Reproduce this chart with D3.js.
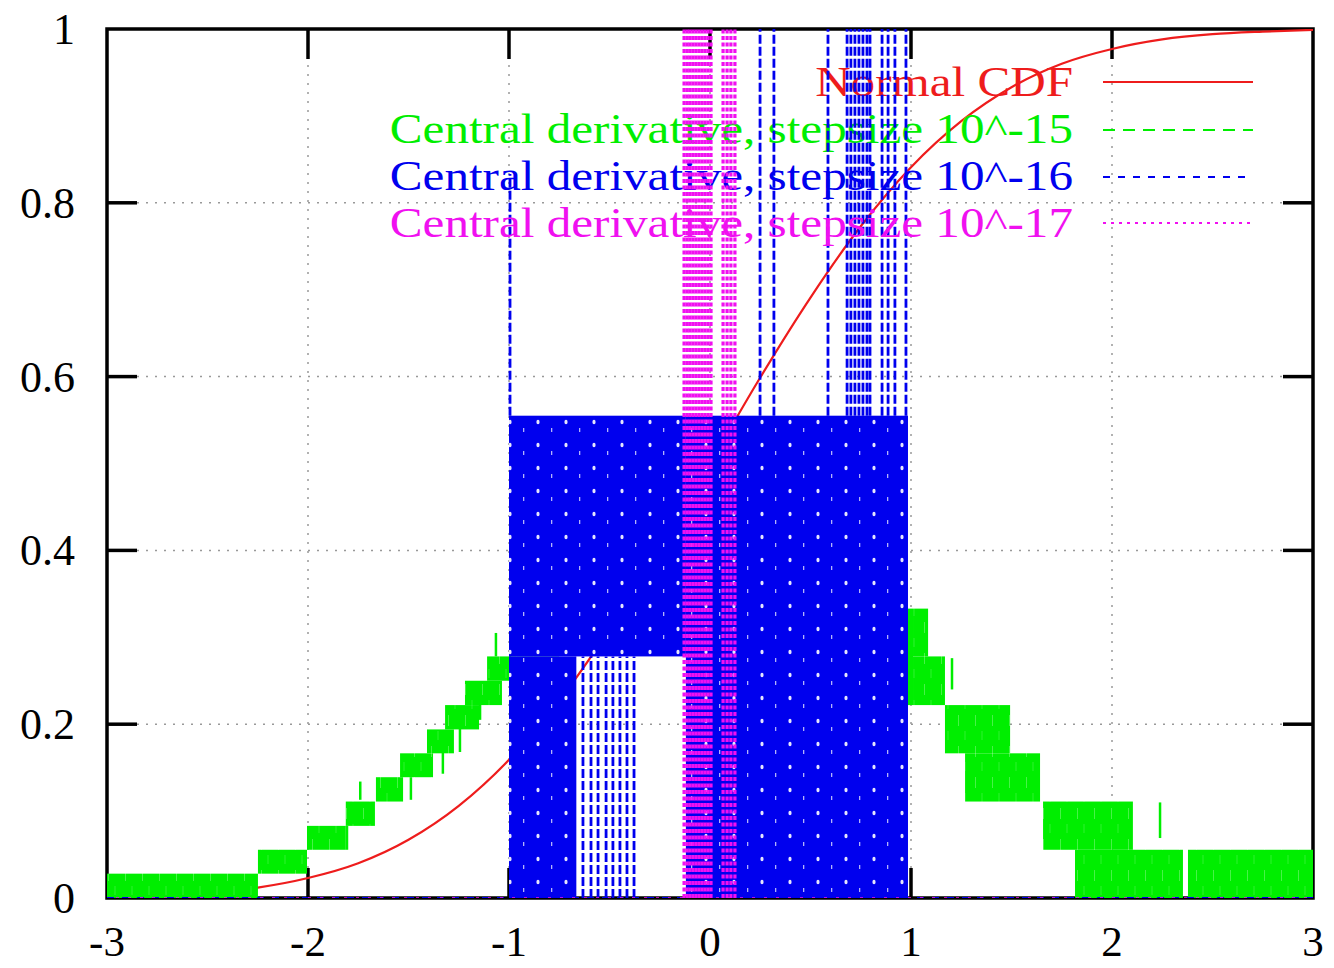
<!DOCTYPE html>
<html>
<head>
<meta charset="utf-8">
<script src="https://cdn.jsdelivr.net/npm/d3@7/dist/d3.min.js"></script>
<style>
  html, body { margin: 0; padding: 0; background: #fff; }
  svg { display: block; }
  text { font-family: "Liberation Serif", "Times New Roman", serif; }
</style>
</head>
<body>
<div id="chart"></div>
<script>
// ---- data ----
var xTicks = [-3, -2, -1, 0, 1, 2, 3];
var yTicks = [0, 0.2, 0.4, 0.6, 0.8, 1];

// normal CDF, sampled every 0.25
var cdfX = [-3, -2.75, -2.5, -2.25, -2, -1.75, -1.5, -1.25, -1, -0.75, -0.5, -0.25, 0,
            0.25, 0.5, 0.75, 1, 1.25, 1.5, 1.75, 2, 2.25, 2.5, 2.75, 3];
var cdfY = [0.001, 0.003, 0.006, 0.012, 0.023, 0.040, 0.067, 0.106, 0.159, 0.227, 0.309, 0.401, 0.5,
            0.599, 0.691, 0.773, 0.841, 0.894, 0.933, 0.960, 0.977, 0.988, 0.994, 0.997, 0.999];

// stepsize 10^-15 : noisy bands [x0, x1, low, high]
var greenBands = [
  [-3.0, -2.249, 0, 0.028],
  [-2.249, -2.005, 0.028, 0.0555],
  [-2.005, -1.812, 0.0555, 0.083],
  [-1.812, -1.667, 0.083, 0.111],
  [-1.662, -1.527, 0.111, 0.139],
  [-1.542, -1.378, 0.139, 0.1665],
  [-1.408, -1.274, 0.1665, 0.194],
  [-1.318, -1.149, 0.194, 0.222],
  [-1.219, -1.035, 0.222, 0.25],
  [-1.109, -0.99, 0.25, 0.278],
  [-1.0, -0.75, 0.278, 0.305],
  [-0.8, -0.5, 0.305, 0.333],
  [-0.55, -0.25, 0.333, 0.361],
  [-0.3, 0.02, 0.361, 0.389],
  [0, 0.5, 0.333, 0.444],
  [0.45, 0.85, 0.278, 0.389],
  [0.8, 1.01, 0.222, 0.333],
  [1.01, 1.085, 0.278, 0.333],
  [1.01, 1.169, 0.222, 0.278],
  [1.169, 1.493, 0.1665, 0.222],
  [1.269, 1.642, 0.111, 0.1665],
  [1.657, 2.104, 0.0555, 0.111],
  [1.816, 2.353, 0, 0.0555],
  [2.378, 3.0, 0, 0.0555]
];
// isolated spikes [x, low, high]
var greenSpikes = [
  [-1.806, 0.0555, 0.083],
  [-1.74, 0.113, 0.134],
  [-1.488, 0.113, 0.139],
  [-1.329, 0.143, 0.17],
  [-1.244, 0.168, 0.197],
  [-1.144, 0.205, 0.225],
  [-1.065, 0.278, 0.305],
  [1.204, 0.24, 0.276],
  [2.239, 0.069, 0.11]
];

// stepsize 10^-16
var blueBands = [
  [-1.0, -0.12, 0.278, 0.555],
  [-1.0, -0.665, 0, 0.278],
  [-0.12, 0.985, 0, 0.555]
];
var blueLines = [
  [-0.995, 0.555, 0.833],
  [-0.632, 0, 0.278], [-0.592, 0, 0.278], [-0.557, 0, 0.278], [-0.517, 0, 0.278],
  [-0.483, 0, 0.278], [-0.448, 0, 0.278], [-0.413, 0, 0.278], [-0.378, 0, 0.278],
  [0.249, 0.555, 1.1], [0.318, 0.555, 1.1], [0.587, 0.555, 1.1],
  [0.682, 0.555, 1.1], [0.701, 0.555, 1.1], [0.721, 0.555, 1.1], [0.741, 0.555, 1.1],
  [0.761, 0.555, 1.1], [0.781, 0.555, 1.1], [0.796, 0.555, 1.1],
  [0.856, 0.555, 1.1], [0.886, 0.555, 1.1], [0.92, 0.555, 1.1], [0.975, 0.555, 1.1]
];

// stepsize 10^-17 : every value is off the top of the chart
var magentaX = [-0.129, -0.114, -0.100, -0.085, -0.070, -0.055, -0.040, -0.025, -0.010, 0.005,
                0.065, 0.085, 0.104, 0.124];
var magentaTop = 1.1;

var legendLabels = [
  "Normal CDF",
  "Central derivative, stepsize 10^-15",
  "Central derivative, stepsize 10^-16",
  "Central derivative, stepsize 10^-17"
];

// ---- drawing ----
var width = 1334, height = 968;
var red = "#ee1c1c", green = "#00ee00", blue = "#0000ee", magenta = "#f010f0";

var svg = d3.select("#chart").append("svg")
  .attr("width", width)
  .attr("height", height);

var x = d3.scaleLinear().domain([-3, 3]).range([107, 1313]);
var y = d3.scaleLinear().domain([0, 1]).range([898, 29]);
var tickLen = 30;

var defs = svg.append("defs");
defs.append("clipPath").attr("id", "plotclip")
  .append("rect")
  .attr("x", x(-3)).attr("y", y(1))
  .attr("width", x(3) - x(-3)).attr("height", y(0) - y(1));

// green texture: faint white streaks
var gp = defs.append("pattern").attr("id", "greenTex")
  .attr("patternUnits", "userSpaceOnUse")
  .attr("width", 17).attr("height", 31);
gp.append("rect").attr("width", 17).attr("height", 31).attr("fill", green);
gp.append("line").attr("x1", 6.5).attr("x2", 6.5).attr("y1", 2).attr("y2", 13)
  .attr("stroke", "#fff").attr("stroke-width", 0.8).attr("opacity", 0.35);
gp.append("line").attr("x1", 13).attr("x2", 13).attr("y1", 18).attr("y2", 27)
  .attr("stroke", "#fff").attr("stroke-width", 0.7).attr("opacity", 0.25);

// blue texture: sparse white holes between dashes
var bp = defs.append("pattern").attr("id", "blueTex")
  .attr("patternUnits", "userSpaceOnUse")
  .attr("width", 28).attr("height", 23);
bp.append("rect").attr("width", 28).attr("height", 23).attr("fill", blue);
bp.append("ellipse").attr("cx", 6).attr("cy", 8).attr("rx", 1.6).attr("ry", 2.3)
  .attr("fill", "#fff").attr("opacity", 0.9);
bp.append("rect").attr("x", 19).attr("y", 14).attr("width", 1.3).attr("height", 4)
  .attr("fill", "#fff").attr("opacity", 0.7);

// grid
var grid = svg.append("g")
  .attr("stroke", "#999").attr("stroke-width", 1.5)
  .attr("stroke-dasharray", "2,7");
grid.selectAll(".gx")
  .data(xTicks.filter(function (d) { return d > -3 && d < 3; }))
  .enter().append("line")
  .attr("x1", function (d) { return x(d); })
  .attr("x2", function (d) { return x(d); })
  .attr("y1", y(0) - tickLen).attr("y2", y(1) + tickLen);
grid.selectAll(".gy")
  .data(yTicks.filter(function (d) { return d > 0 && d < 1; }))
  .enter().append("line")
  .attr("y1", function (d) { return y(d); })
  .attr("y2", function (d) { return y(d); })
  .attr("x1", x(-3) + tickLen).attr("x2", x(3) - tickLen);

// border and ticks
var frame = svg.append("g").attr("stroke", "#000").attr("stroke-width", 3.5).attr("fill", "none");
frame.append("rect")
  .attr("x", x(-3)).attr("y", y(1))
  .attr("width", x(3) - x(-3)).attr("height", y(0) - y(1));
xTicks.filter(function (d) { return d > -3 && d < 3; }).forEach(function (d) {
  frame.append("line").attr("x1", x(d)).attr("x2", x(d)).attr("y1", y(0)).attr("y2", y(0) - tickLen);
  frame.append("line").attr("x1", x(d)).attr("x2", x(d)).attr("y1", y(1)).attr("y2", y(1) + tickLen);
});
yTicks.filter(function (d) { return d > 0 && d < 1; }).forEach(function (d) {
  frame.append("line").attr("y1", y(d)).attr("y2", y(d)).attr("x1", x(-3)).attr("x2", x(-3) + tickLen);
  frame.append("line").attr("y1", y(d)).attr("y2", y(d)).attr("x1", x(3)).attr("x2", x(3) - tickLen);
});

// tick labels
svg.append("g").selectAll("text")
  .data(xTicks).enter().append("text")
  .attr("x", function (d) { return x(d); })
  .attr("y", 956)
  .attr("text-anchor", "middle")
  .attr("font-size", 43)
  .text(function (d) { return d; });
svg.append("g").selectAll("text")
  .data(yTicks).enter().append("text")
  .attr("x", 75)
  .attr("y", function (d) { return y(d) + 15; })
  .attr("text-anchor", "end")
  .attr("font-size", 44)
  .text(function (d) { return d; });

var legendY = [96, 143, 190, 237];
var sampleY = [82, 130, 177, 223];

function legendEntry(i, color, dash) {
  // the reference face is wider than Times, so stretch it horizontally
  svg.append("text")
    .attr("transform", "translate(1073," + legendY[i] + ") scale(1.17,1)")
    .attr("text-anchor", "end")
    .attr("font-size", 42)
    .attr("fill", color)
    .text(legendLabels[i]);
  svg.append("line")
    .attr("x1", 1103).attr("x2", 1253)
    .attr("y1", sampleY[i]).attr("y2", sampleY[i])
    .attr("stroke", color).attr("stroke-width", 2.2)
    .attr("stroke-dasharray", dash);
}

// Normal CDF
legendEntry(0, red, null);
var cdfLine = d3.line()
  .x(function (d) { return x(d[0]); })
  .y(function (d) { return y(d[1]); })
  .curve(d3.curveMonotoneX);
svg.append("path")
  .datum(d3.zip(cdfX, cdfY))
  .attr("clip-path", "url(#plotclip)")
  .attr("d", cdfLine)
  .attr("fill", "none")
  .attr("stroke", red)
  .attr("stroke-width", 2.2);

// stepsize 10^-15
legendEntry(1, green, "12,8");
var g15 = svg.append("g").attr("clip-path", "url(#plotclip)");
g15.selectAll("rect")
  .data(greenBands).enter().append("rect")
  .attr("x", function (d) { return x(d[0]); })
  .attr("width", function (d) { return x(d[1]) - x(d[0]); })
  .attr("y", function (d) { return y(d[3]); })
  .attr("height", function (d) { return y(d[2]) - y(d[3]); })
  .attr("fill", "url(#greenTex)");
g15.selectAll("line")
  .data(greenSpikes).enter().append("line")
  .attr("x1", function (d) { return x(d[0]); })
  .attr("x2", function (d) { return x(d[0]); })
  .attr("y1", function (d) { return y(d[1]); })
  .attr("y2", function (d) { return y(d[2]); })
  .attr("stroke", green).attr("stroke-width", 2.5);

// stepsize 10^-16
legendEntry(2, blue, "7,8");
var g16 = svg.append("g").attr("clip-path", "url(#plotclip)");
g16.selectAll("rect")
  .data(blueBands).enter().append("rect")
  .attr("x", function (d) { return x(d[0]); })
  .attr("width", function (d) { return x(d[1]) - x(d[0]); })
  .attr("y", function (d) { return y(d[3]); })
  .attr("height", function (d) { return y(d[2]) - y(d[3]); })
  .attr("fill", "url(#blueTex)");
g16.selectAll("line.v")
  .data(blueLines).enter().append("line")
  .attr("class", "v")
  .attr("x1", function (d) { return x(d[0]); })
  .attr("x2", function (d) { return x(d[0]); })
  .attr("y1", function (d) { return y(d[1]); })
  .attr("y2", function (d) { return y(d[2]); })
  .attr("stroke", blue).attr("stroke-width", 2.8)
  .attr("stroke-dasharray", "9,3");
g16.append("line")
  .attr("x1", x(-3)).attr("x2", x(3)).attr("y1", y(0)).attr("y2", y(0))
  .attr("stroke", blue).attr("stroke-width", 2).attr("stroke-dasharray", "7,8");

// stepsize 10^-17
legendEntry(3, magenta, "3,5");
var g17 = svg.append("g").attr("clip-path", "url(#plotclip)");
g17.selectAll("line.v")
  .data(magentaX).enter().append("line")
  .attr("class", "v")
  .attr("x1", function (d) { return x(d); })
  .attr("x2", function (d) { return x(d); })
  .attr("y1", y(0))
  .attr("y2", y(magentaTop))
  .attr("stroke", magenta).attr("stroke-width", 3.2)
  .attr("stroke-dasharray", "4,2.5");
g17.append("line")
  .attr("x1", x(-3)).attr("x2", x(3)).attr("y1", y(0)).attr("y2", y(0))
  .attr("stroke", magenta).attr("stroke-width", 1.5).attr("stroke-dasharray", "3,9")
  .attr("stroke-dashoffset", 3);
</script>
</body>
</html>
